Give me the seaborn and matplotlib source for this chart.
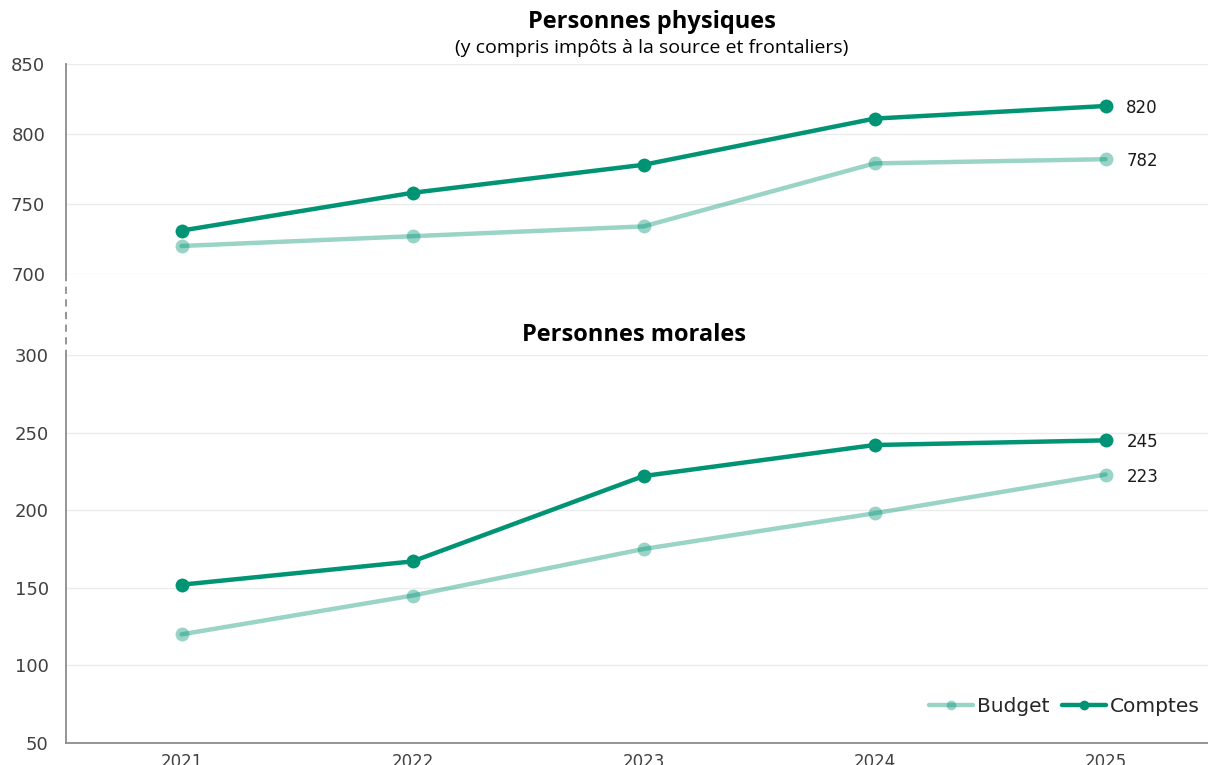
import numpy as np
import pandas as pd
import seaborn as sns
import matplotlib.pyplot as plt
from matplotlib.lines import Line2D

# Values
years = ["2021", "2022", "2023", "2024", "2025"]
pp_budget = [720, 727, 734, 779, 782]
pp_comptes = [731, 758, 778, 811, 820]
pm_budget = [120, 145, 175, 198, 223]
pm_comptes = [152, 167, 222, 242, 245]

series_names = ["Budget", "Comptes"]
green = "#009474"
series_alpha = {"Budget": 0.4, "Comptes": 1.0}

sns.set_style("white")
plt.rcParams["font.family"] = ["DejaVu Sans"]

W, H = 1208, 765
fig = plt.figure(figsize=(W / 100, H / 100), dpi=100)

left = 66 / W
ax_top = fig.add_axes([left, 1 - 274 / H, 1 - left, (274 - 64) / H])
ax_bot = fig.add_axes([left, 1 - 743 / H, 1 - left, (743 - 355) / H])

grey = "#8c8c8c"
panels = [
    (ax_top, pp_budget, pp_comptes, (700, 850), [700, 750, 800, 850]),
    (ax_bot, pm_budget, pm_comptes, (50, 300), [50, 100, 150, 200, 250, 300]),
]

for ax, budget, comptes, ylim, yticks in panels:
    df = pd.DataFrame({
        "Année": years * 2,
        "Valeur": budget + comptes,
        "Série": ["Budget"] * len(years) + ["Comptes"] * len(years),
    })
    for name in series_names:
        sub = df[df["Série"] == name]
        sns.lineplot(data=sub, x="Année", y="Valeur", ax=ax, color=green,
                     alpha=series_alpha[name], lw=3.2, marker="o", markersize=10,
                     markeredgewidth=0, label=name, legend=False)
        last = sub["Valeur"].iloc[-1]
        ax.annotate(f"{last}", xy=(len(years) - 1, last), xytext=(15, -1.5),
                    textcoords="offset points", va="center", ha="left",
                    fontsize=12, color="#1a1a1a")

    ax.set_ylim(*ylim)
    ax.set_yticks(yticks)
    ax.set_xlim(-0.5, (W - 66) / 231 - 0.5)
    ax.set_xlabel("")
    ax.set_ylabel("")
    ax.grid(axis="y", color="#ebebeb", lw=1)
    ax.set_axisbelow(True)
    for s in ["top", "right"]:
        ax.spines[s].set_visible(False)
    ax.spines["left"].set_color(grey)
    ax.spines["left"].set_linewidth(1.3)

ax_top.tick_params(axis="y", direction="out", length=6, width=1.2, color=grey,
                   labelsize=13, labelcolor="#404040", pad=9)
ax_bot.tick_params(axis="y", direction="inout", length=9, width=1.2, color=grey,
                   labelsize=13, labelcolor="#404040", pad=8)

# top panel: no x axis
ax_top.spines["bottom"].set_visible(False)
ax_top.tick_params(axis="x", which="both", length=0, labelbottom=False)

# bottom panel x axis: labels at centres, ticks at category boundaries
ax_bot.spines["bottom"].set_color(grey)
ax_bot.spines["bottom"].set_linewidth(1.3)
ax_bot.set_xticks(range(len(years)))
ax_bot.set_xticklabels(years)
ax_bot.set_xticks(np.arange(-0.5, len(years) - 1, 1.0), minor=True)
ax_bot.tick_params(axis="x", which="major", length=0, labelsize=12, labelcolor="#404040", pad=7)
ax_bot.tick_params(axis="x", which="minor", length=5, color=grey, width=1.2)

leg = ax_bot.legend(loc="center right", bbox_to_anchor=(1.0, (743 - 707) / (743 - 355)),
                    ncol=2, frameon=False, fontsize=14.5, handlelength=2.2,
                    columnspacing=0.6, handletextpad=0.2, borderaxespad=0.0)
for h in leg.legend_handles:
    h.set_markersize(7)

# dashed break between the two panels
fig.add_artist(Line2D([left, left], [1 - 274 / H, 1 - 355 / H], transform=fig.transFigure,
                      color=grey, lw=1.3, ls=(0, (4, 3))))

title_font = ["Open Sans", "DejaVu Sans"]
fig.text(652 / W, 1 - 22 / H, "Personnes physiques", ha="center", va="center",
         fontsize=17, fontweight="bold", family=title_font, color="#000000")
fig.text(652 / W, 1 - 48 / H, "(y compris impôts à la source et frontaliers)", ha="center",
         va="center", fontsize=14, family=title_font, color="#000000")
fig.text(634 / W, 1 - 335 / H, "Personnes morales", ha="center", va="center",
         fontsize=17, fontweight="bold", family=title_font, color="#000000")

fig.savefig("out.png", dpi=100)
plt.close(fig)
